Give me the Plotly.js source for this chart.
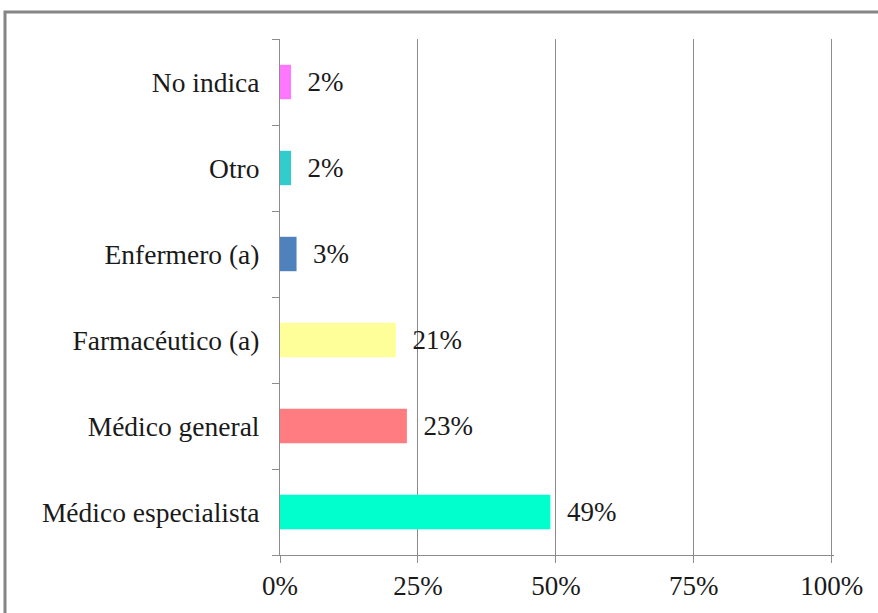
<!DOCTYPE html>
<html>
<head>
<meta charset="utf-8">
<script src="https://cdn.plot.ly/plotly-3.0.1.min.js"></script>
<style>html,body{margin:0;padding:0;background:#fff;}#chart{width:878px;height:613px;}</style>
</head>
<body>
<div id="chart"></div>
<script>
const categories = ["Médico especialista", "Médico general", "Farmacéutico (a)", "Enfermero (a)", "Otro", "No indica"];
const values = [0.49, 0.23, 0.21, 0.03, 0.02, 0.02];
const barColors = ["#00FFCC", "#FF7C80", "#FFFF99", "#4F81BD", "#33CCCC", "#FF77FF"];
const xTickVals = [0, 0.25, 0.5, 0.75, 1];
const xTickText = ["0%", "25%", "50%", "75%", "100%"];

const fontFam = '"Liberation Serif", "Times New Roman", serif';

const trace = {
  type: "bar",
  orientation: "h",
  y: categories,
  x: values,
  marker: {color: barColors, line: {width: 0}},
  texttemplate: "\u00a0\u00a0%{x:.0%}",
  textposition: "outside",
  cliponaxis: false,
  textfont: {family: fontFam, size: 27, color: "#1a1a1a"},
  hoverinfo: "none"
};

const layout = {
  width: 878,
  height: 613,
  margin: {l: 280, r: 44, t: 39, b: 58, pad: 0},
  paper_bgcolor: "#ffffff",
  plot_bgcolor: "#ffffff",
  showlegend: false,
  bargap: 0.6,
  font: {family: fontFam, size: 27, color: "#1a1a1a"},
  xaxis: {
    range: [0, 1.004],
    tickvals: xTickVals,
    ticktext: xTickText,
    showgrid: true,
    gridcolor: "#8c8c8c",
    gridwidth: 1,
    zeroline: false,
    showline: true,
    linecolor: "#8c8c8c",
    linewidth: 1,
    ticks: "outside",
    ticklen: 7,
    tickcolor: "#8c8c8c",
    tickfont: {family: fontFam, size: 27, color: "#1a1a1a"},
    fixedrange: true
  },
  yaxis: {
    type: "category",
    categoryorder: "array",
    categoryarray: categories,
    range: [-0.5, 5.5],
    showgrid: false,
    zeroline: false,
    showline: true,
    linecolor: "#8c8c8c",
    linewidth: 1,
    ticks: "outside",
    tickson: "boundaries",
    ticklen: 7,
    tickcolor: "#8c8c8c",
    ticklabelstandoff: 14,
    tickfont: {family: fontFam, size: 27.5, color: "#1a1a1a"},
    fixedrange: true
  },
  shapes: [{
    type: "rect",
    xref: "paper", yref: "paper",
    x0: -0.4964, x1: 1.3, y0: -0.3, y1: 1.0523,
    line: {color: "#858585", width: 3},
    fillcolor: "rgba(0,0,0,0)",
    layer: "below"
  }]
};

Plotly.newPlot("chart", [trace], layout, {displayModeBar: false, staticPlot: true});
</script>
</body>
</html>
